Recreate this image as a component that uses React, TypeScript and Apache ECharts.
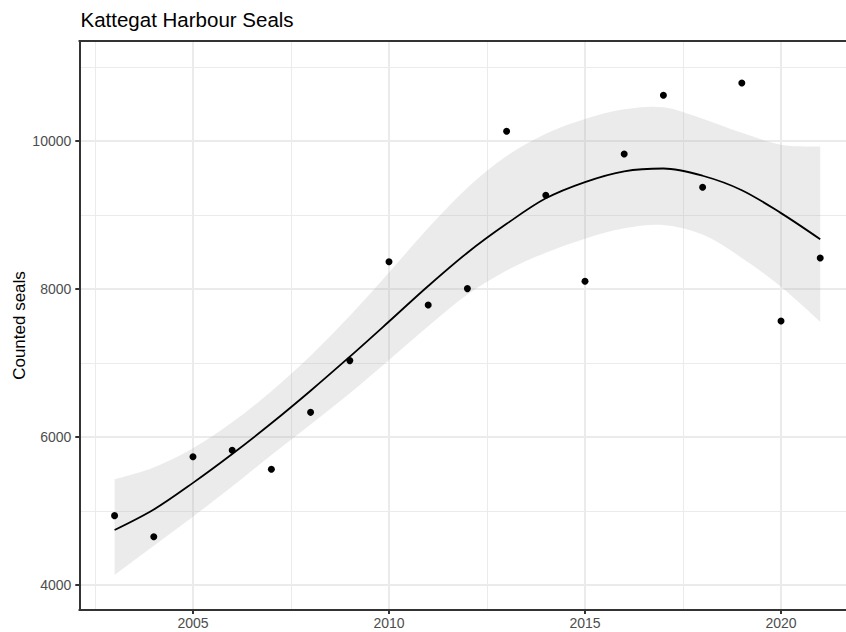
import React, { useEffect, useRef } from "react";
import * as echarts from "echarts";

const years = [2003, 2004, 2005, 2006, 2007, 2008, 2009, 2010, 2011, 2012, 2013, 2014, 2015, 2016, 2017, 2018, 2019, 2020, 2021];
const seals = [4937, 4653, 5734, 5820, 5563, 6333, 7032, 8369, 7784, 8005, 10131, 9266, 8104, 9824, 10617, 9374, 10784, 7568, 8419];
const fit = [4743, 5020, 5380, 5770, 6185, 6625, 7085, 7560, 8040, 8490, 8880, 9225, 9445, 9590, 9628, 9530, 9335, 9025, 8672];
const lower = [4135, 4530, 4923, 5330, 5757, 6170, 6590, 7040, 7495, 7925, 8250, 8490, 8680, 8820, 8865, 8735, 8420, 8030, 7558];
const upper = [5428, 5588, 5848, 6198, 6618, 7098, 7638, 8223, 8823, 9368, 9798, 10098, 10298, 10428, 10455, 10300, 10110, 9950, 9925];

const xTicks = [2005, 2010, 2015, 2020];
const xMinor = [2002.5, 2007.5, 2012.5, 2017.5];
const yTicks = [4000, 6000, 8000, 10000];
const yMinor = [5000, 7000, 9000, 11000];

const X_MIN = 2002.1;
const X_MAX = 2021.9;
const Y_MIN = 3662;
const Y_MAX = 11351;

const FONT = "'Liberation Sans', Arial, Helvetica, sans-serif";

type Pt = number[];

function smoothSegments(pts: Pt[]): string {
  let d = "";
  for (let i = 0; i < pts.length - 1; i++) {
    const p0 = pts[Math.max(i - 1, 0)];
    const p1 = pts[i];
    const p2 = pts[i + 1];
    const p3 = pts[Math.min(i + 2, pts.length - 1)];
    const c1x = p1[0] + (p2[0] - p0[0]) / 6;
    const c1y = p1[1] + (p2[1] - p0[1]) / 6;
    const c2x = p2[0] - (p3[0] - p1[0]) / 6;
    const c2y = p2[1] - (p3[1] - p1[1]) / 6;
    d += ` C ${c1x} ${c1y} ${c2x} ${c2y} ${p2[0]} ${p2[1]}`;
  }
  return d;
}

export default function App() {
  const ref = useRef<HTMLDivElement>(null);

  useEffect(() => {
    document.body.style.margin = "0";
    if (!ref.current) return;
    const chart = echarts.init(ref.current, null, { renderer: "svg" });

    const gridLines = [
      ...yMinor.map((v) => ({ yAxis: v, lineStyle: { width: 1 } })),
      ...xMinor.map((v) => ({ xAxis: v, lineStyle: { width: 1 } })),
      ...yTicks.map((v) => ({ yAxis: v, lineStyle: { width: 2 } })),
      ...xTicks.map((v) => ({ xAxis: v, lineStyle: { width: 2 } })),
    ];

    const axisCommon = {
      type: "value",
      z: 10,
      axisLine: { show: true, onZero: false, lineStyle: { color: "#333333", width: 2 } },
      splitLine: { show: false },
    };

    chart.setOption({
      animation: false,
      textStyle: { fontFamily: FONT },
      title: {
        text: "Kattegat Harbour Seals",
        left: 80.5,
        top: 9,
        padding: 0,
        textStyle: { fontFamily: FONT, fontSize: 20.5, fontWeight: "normal", color: "#000000" },
      },
      graphic: [
        {
          type: "text",
          x: 19,
          y: 325.5,
          rotation: Math.PI / 2,
          silent: true,
          style: {
            text: "Counted seals",
            fontSize: 17,
            fontFamily: FONT,
            fill: "#000000",
            align: "center",
            verticalAlign: "middle",
          },
        },
      ],
      grid: {
        left: 79.3,
        top: 41,
        right: 14.5,
        bottom: 22,
        containLabel: false,
        outerBoundsMode: "none",
      },
      xAxis: [
        {
          ...axisCommon,
          position: "bottom",
          min: X_MIN,
          max: X_MAX,
          axisTick: { show: true, customValues: xTicks, length: 4, lineStyle: { color: "#333333", width: 2 } },
          axisLabel: {
            customValues: xTicks,
            margin: 6,
            color: "#4d4d4d",
            fontSize: 14,
            fontFamily: FONT,
            formatter: (v: number) => String(v),
          },
        },
        {
          ...axisCommon,
          position: "top",
          min: X_MIN,
          max: X_MAX,
          axisTick: { show: false },
          axisLabel: { show: false },
        },
      ],
      yAxis: {
        ...axisCommon,
        min: Y_MIN,
        max: Y_MAX,
        axisTick: { show: true, customValues: yTicks, length: 4, lineStyle: { color: "#333333", width: 2 } },
        axisLabel: {
          customValues: yTicks,
          margin: 8,
          color: "#4d4d4d",
          fontSize: 14,
          fontFamily: FONT,
          formatter: (v: number) => String(v),
        },
      },
      series: [
        {
          name: "ribbon",
          type: "custom",
          data: years.map((y, i) => [y, lower[i], upper[i]]),
          encode: { x: 0, y: [1, 2] },
          silent: true,
          z: 2,
          renderItem: (params: any, api: any) => {
            if (params.dataIndex !== 0) return null;
            const up = years.map((y, i) => api.coord([y, upper[i]]));
            const lo = years.map((y, i) => api.coord([y, lower[i]])).reverse();
            const d =
              `M ${up[0][0]} ${up[0][1]}` +
              smoothSegments(up) +
              ` L ${lo[0][0]} ${lo[0][1]}` +
              smoothSegments(lo) +
              " Z";
            return {
              type: "path",
              shape: { pathData: d },
              style: { fill: "rgba(153,153,153,0.2)", stroke: "none" },
            };
          },
          markLine: {
            silent: true,
            z: 1,
            symbol: "none",
            label: { show: false },
            emphasis: { disabled: true },
            lineStyle: { color: "#ebebeb", type: "solid" },
            data: gridLines,
          },
        },
        {
          name: "fit",
          type: "line",
          data: years.map((y, i) => [y, fit[i]]),
          smooth: 0.33,
          symbol: "none",
          lineStyle: { color: "#000000", width: 1.8 },
          silent: true,
          z: 3,
        },
        {
          name: "seals",
          type: "scatter",
          data: years.map((y, i) => [y, seals[i]]),
          symbolSize: 7,
          itemStyle: { color: "#000000", opacity: 1 },
          silent: true,
          z: 4,
        },
      ],
    });

    return () => chart.dispose();
  }, []);

  return (
    <div style={{ width: 846, height: 632, overflow: "hidden", position: "relative" }}>
      <div ref={ref} style={{ width: 870, height: 632 }} />
    </div>
  );
}
